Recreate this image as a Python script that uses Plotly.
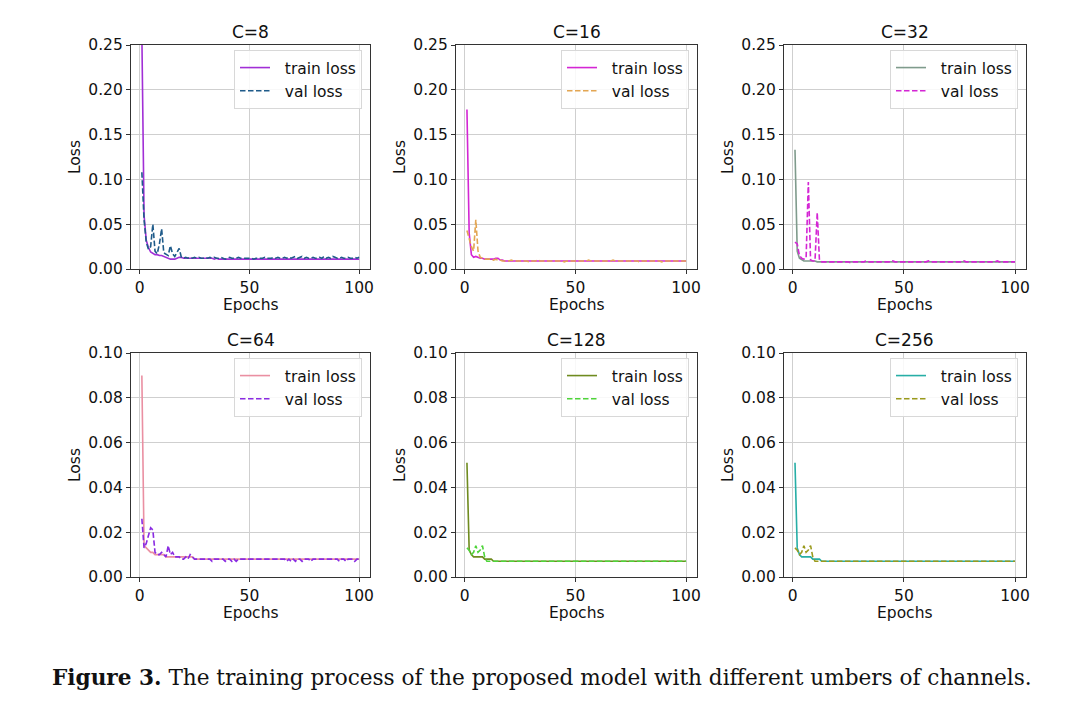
import plotly.graph_objects as go

epochs = list(range(1, 101))

titles = ["C=8", "C=16", "C=32", "C=64", "C=128", "C=256"]

c8_train = [0.262, 0.060, 0.032, 0.024, 0.019, 0.017, 0.016, 0.016, 0.015, 0.015,
            0.014, 0.013, 0.012, 0.011, 0.011, 0.011, 0.012, 0.013, 0.013, 0.012,
            0.012, 0.012, 0.012, 0.012, 0.012, 0.012, 0.012, 0.012, 0.012, 0.012,
            0.012, 0.012, 0.012, 0.011, 0.012, 0.011, 0.011, 0.011, 0.011, 0.011,
            0.011, 0.011, 0.011, 0.011, 0.011, 0.011, 0.011, 0.011, 0.011, 0.011,
            0.011, 0.011, 0.011, 0.011, 0.011, 0.011, 0.011, 0.011, 0.011, 0.011,
            0.011, 0.011, 0.011, 0.011, 0.011, 0.011, 0.011, 0.011, 0.011, 0.011,
            0.011, 0.011, 0.011, 0.011, 0.011, 0.011, 0.011, 0.011, 0.011, 0.011,
            0.011, 0.011, 0.011, 0.011, 0.011, 0.011, 0.011, 0.011, 0.011, 0.011,
            0.011, 0.011, 0.011, 0.011, 0.011, 0.011, 0.011, 0.011, 0.011, 0.011]
c8_val = [0.108, 0.055, 0.030, 0.022, 0.025, 0.050, 0.020, 0.017, 0.028, 0.045,
          0.018, 0.016, 0.015, 0.026, 0.017, 0.014, 0.018, 0.023, 0.013, 0.012,
          0.013, 0.012, 0.013, 0.012, 0.013, 0.012, 0.013, 0.012, 0.012, 0.013,
          0.012, 0.013, 0.012, 0.013, 0.012, 0.012, 0.013, 0.012, 0.011, 0.012,
          0.013, 0.012, 0.012, 0.012, 0.013, 0.012, 0.012, 0.012, 0.012, 0.012,
          0.012, 0.011, 0.012, 0.012, 0.012, 0.012, 0.013, 0.012, 0.012, 0.012,
          0.013, 0.012, 0.013, 0.012, 0.012, 0.013, 0.012, 0.013, 0.012, 0.013,
          0.014, 0.012, 0.013, 0.014, 0.012, 0.013, 0.012, 0.012, 0.013, 0.012,
          0.012, 0.013, 0.012, 0.014, 0.012, 0.013, 0.012, 0.014, 0.013, 0.012,
          0.012, 0.013, 0.012, 0.012, 0.013, 0.012, 0.012, 0.013, 0.012, 0.013]

c16_train = [0.178, 0.040, 0.016, 0.013, 0.014, 0.013, 0.012, 0.012, 0.011, 0.011,
             0.011, 0.011, 0.011, 0.012, 0.012, 0.010, 0.010, 0.009, 0.009, 0.009,
             0.009, 0.009, 0.009, 0.009, 0.009, 0.009, 0.009, 0.009, 0.009, 0.009,
             0.009, 0.009, 0.009, 0.009, 0.009, 0.009, 0.009, 0.009, 0.009, 0.009,
             0.009, 0.009, 0.009, 0.009, 0.009, 0.009, 0.009, 0.009, 0.009, 0.009,
             0.009, 0.009, 0.009, 0.009, 0.009, 0.009, 0.009, 0.009, 0.009, 0.009,
             0.009, 0.009, 0.009, 0.009, 0.009, 0.009, 0.009, 0.009, 0.009, 0.009,
             0.009, 0.009, 0.009, 0.009, 0.009, 0.009, 0.009, 0.009, 0.009, 0.009,
             0.009, 0.009, 0.009, 0.009, 0.009, 0.009, 0.009, 0.009, 0.009, 0.009,
             0.009, 0.009, 0.009, 0.009, 0.009, 0.009, 0.009, 0.009, 0.009, 0.009]
c16_val = [0.043, 0.035, 0.025, 0.020, 0.055, 0.020, 0.013, 0.012, 0.011, 0.011,
           0.011, 0.011, 0.010, 0.011, 0.010, 0.010, 0.009, 0.009, 0.009, 0.009,
           0.010, 0.009, 0.009, 0.009, 0.009, 0.009, 0.009, 0.009, 0.008, 0.009,
           0.009, 0.009, 0.010, 0.009, 0.009, 0.009, 0.009, 0.009, 0.009, 0.009,
           0.009, 0.009, 0.009, 0.009, 0.008, 0.009, 0.009, 0.009, 0.009, 0.009,
           0.009, 0.009, 0.009, 0.009, 0.009, 0.010, 0.009, 0.009, 0.009, 0.009,
           0.009, 0.009, 0.009, 0.009, 0.009, 0.009, 0.010, 0.009, 0.009, 0.009,
           0.009, 0.009, 0.009, 0.009, 0.009, 0.009, 0.009, 0.009, 0.008, 0.009,
           0.009, 0.009, 0.009, 0.009, 0.009, 0.009, 0.009, 0.009, 0.008, 0.009,
           0.009, 0.009, 0.009, 0.009, 0.009, 0.009, 0.009, 0.009, 0.009, 0.009]

c32_train = [0.133, 0.020, 0.012, 0.010, 0.009, 0.009, 0.009, 0.009, 0.009, 0.009,
             0.008, 0.008, 0.008, 0.008, 0.008, 0.008, 0.008, 0.008, 0.008, 0.008,
             0.008, 0.008, 0.008, 0.008, 0.008, 0.008, 0.008, 0.008, 0.008, 0.008,
             0.008, 0.008, 0.008, 0.008, 0.008, 0.008, 0.008, 0.008, 0.008, 0.008,
             0.008, 0.008, 0.008, 0.008, 0.008, 0.008, 0.008, 0.008, 0.008, 0.008,
             0.008, 0.008, 0.008, 0.008, 0.008, 0.008, 0.008, 0.008, 0.008, 0.008,
             0.008, 0.008, 0.008, 0.008, 0.008, 0.008, 0.008, 0.008, 0.008, 0.008,
             0.008, 0.008, 0.008, 0.008, 0.008, 0.008, 0.008, 0.008, 0.008, 0.008,
             0.008, 0.008, 0.008, 0.008, 0.008, 0.008, 0.008, 0.008, 0.008, 0.008,
             0.008, 0.008, 0.008, 0.008, 0.008, 0.008, 0.008, 0.008, 0.008, 0.008]
c32_val = [0.030, 0.028, 0.015, 0.012, 0.011, 0.012, 0.097, 0.010, 0.009, 0.009,
           0.063, 0.010, 0.008, 0.008, 0.008, 0.008, 0.008, 0.008, 0.008, 0.008,
           0.008, 0.008, 0.008, 0.008, 0.008, 0.007, 0.008, 0.008, 0.008, 0.008,
           0.008, 0.008, 0.009, 0.008, 0.008, 0.008, 0.008, 0.008, 0.008, 0.008,
           0.008, 0.008, 0.008, 0.008, 0.009, 0.008, 0.008, 0.008, 0.008, 0.008,
           0.008, 0.008, 0.008, 0.008, 0.008, 0.008, 0.008, 0.008, 0.008, 0.008,
           0.009, 0.008, 0.008, 0.008, 0.008, 0.008, 0.008, 0.008, 0.008, 0.008,
           0.008, 0.008, 0.008, 0.008, 0.008, 0.008, 0.009, 0.008, 0.008, 0.008,
           0.008, 0.008, 0.008, 0.008, 0.008, 0.008, 0.008, 0.008, 0.008, 0.008,
           0.008, 0.009, 0.008, 0.008, 0.008, 0.008, 0.008, 0.008, 0.008, 0.008]

c64_train = [0.090, 0.014, 0.013, 0.012, 0.011, 0.011, 0.010, 0.010, 0.010, 0.010,
             0.010, 0.009, 0.009, 0.009, 0.009, 0.009, 0.009, 0.009, 0.009, 0.009,
             0.009, 0.009, 0.009, 0.009, 0.008, 0.008, 0.008, 0.008, 0.008, 0.008,
             0.008, 0.008, 0.008, 0.008, 0.008, 0.008, 0.008, 0.008, 0.008, 0.008,
             0.008, 0.008, 0.008, 0.008, 0.008, 0.008, 0.008, 0.008, 0.008, 0.008,
             0.008, 0.008, 0.008, 0.008, 0.008, 0.008, 0.008, 0.008, 0.008, 0.008,
             0.008, 0.008, 0.008, 0.008, 0.008, 0.008, 0.008, 0.008, 0.008, 0.008,
             0.008, 0.008, 0.008, 0.008, 0.008, 0.008, 0.008, 0.008, 0.008, 0.008,
             0.008, 0.008, 0.008, 0.008, 0.008, 0.008, 0.008, 0.008, 0.008, 0.008,
             0.008, 0.008, 0.008, 0.008, 0.008, 0.008, 0.008, 0.008, 0.008, 0.008]
c64_val = [0.026, 0.013, 0.015, 0.018, 0.022, 0.021, 0.011, 0.010, 0.010, 0.011,
           0.010, 0.009, 0.014, 0.010, 0.011, 0.009, 0.009, 0.009, 0.008, 0.008,
           0.009, 0.008, 0.010, 0.009, 0.008, 0.008, 0.008, 0.008, 0.008, 0.008,
           0.008, 0.008, 0.007, 0.008, 0.008, 0.008, 0.008, 0.008, 0.007, 0.008,
           0.008, 0.007, 0.008, 0.007, 0.008, 0.008, 0.008, 0.008, 0.008, 0.008,
           0.008, 0.008, 0.008, 0.008, 0.008, 0.008, 0.008, 0.008, 0.008, 0.008,
           0.008, 0.008, 0.008, 0.008, 0.008, 0.008, 0.007, 0.008, 0.007, 0.008,
           0.007, 0.008, 0.008, 0.007, 0.008, 0.008, 0.008, 0.007, 0.008, 0.008,
           0.008, 0.008, 0.008, 0.008, 0.008, 0.008, 0.008, 0.008, 0.008, 0.008,
           0.007, 0.008, 0.008, 0.007, 0.008, 0.008, 0.008, 0.007, 0.008, 0.008]

c128_train = [0.051, 0.012, 0.010, 0.009, 0.009, 0.009, 0.009, 0.009, 0.008, 0.008,
              0.008, 0.008, 0.007, 0.007, 0.007, 0.007, 0.007, 0.007, 0.007, 0.007,
              0.007, 0.007, 0.007, 0.007, 0.007, 0.007, 0.007, 0.007, 0.007, 0.007,
              0.007, 0.007, 0.007, 0.007, 0.007, 0.007, 0.007, 0.007, 0.007, 0.007,
              0.007, 0.007, 0.007, 0.007, 0.007, 0.007, 0.007, 0.007, 0.007, 0.007,
              0.007, 0.007, 0.007, 0.007, 0.007, 0.007, 0.007, 0.007, 0.007, 0.007,
              0.007, 0.007, 0.007, 0.007, 0.007, 0.007, 0.007, 0.007, 0.007, 0.007,
              0.007, 0.007, 0.007, 0.007, 0.007, 0.007, 0.007, 0.007, 0.007, 0.007,
              0.007, 0.007, 0.007, 0.007, 0.007, 0.007, 0.007, 0.007, 0.007, 0.007,
              0.007, 0.007, 0.007, 0.007, 0.007, 0.007, 0.007, 0.007, 0.007, 0.007]
c128_val = [0.013, 0.012, 0.010, 0.011, 0.014, 0.011, 0.012, 0.014, 0.009, 0.007,
            0.007, 0.007, 0.007, 0.007, 0.007, 0.007, 0.007, 0.007, 0.007, 0.007,
            0.007, 0.007, 0.007, 0.007, 0.007, 0.007, 0.007, 0.007, 0.007, 0.007,
            0.007, 0.007, 0.007, 0.007, 0.007, 0.007, 0.007, 0.007, 0.007, 0.007,
            0.007, 0.007, 0.007, 0.007, 0.007, 0.007, 0.007, 0.007, 0.007, 0.007,
            0.007, 0.007, 0.007, 0.007, 0.007, 0.007, 0.007, 0.007, 0.007, 0.007,
            0.007, 0.007, 0.007, 0.007, 0.007, 0.007, 0.007, 0.007, 0.007, 0.007,
            0.007, 0.007, 0.007, 0.007, 0.007, 0.007, 0.007, 0.007, 0.007, 0.007,
            0.007, 0.007, 0.007, 0.007, 0.007, 0.007, 0.007, 0.007, 0.007, 0.007,
            0.007, 0.007, 0.007, 0.007, 0.007, 0.007, 0.007, 0.007, 0.007, 0.007]

c256_train = [0.051, 0.013, 0.010, 0.009, 0.009, 0.009, 0.009, 0.009, 0.008, 0.008,
              0.008, 0.008, 0.007, 0.007, 0.007, 0.007, 0.007, 0.007, 0.007, 0.007,
              0.007, 0.007, 0.007, 0.007, 0.007, 0.007, 0.007, 0.007, 0.007, 0.007,
              0.007, 0.007, 0.007, 0.007, 0.007, 0.007, 0.007, 0.007, 0.007, 0.007,
              0.007, 0.007, 0.007, 0.007, 0.007, 0.007, 0.007, 0.007, 0.007, 0.007,
              0.007, 0.007, 0.007, 0.007, 0.007, 0.007, 0.007, 0.007, 0.007, 0.007,
              0.007, 0.007, 0.007, 0.007, 0.007, 0.007, 0.007, 0.007, 0.007, 0.007,
              0.007, 0.007, 0.007, 0.007, 0.007, 0.007, 0.007, 0.007, 0.007, 0.007,
              0.007, 0.007, 0.007, 0.007, 0.007, 0.007, 0.007, 0.007, 0.007, 0.007,
              0.007, 0.007, 0.007, 0.007, 0.007, 0.007, 0.007, 0.007, 0.007, 0.007]
c256_val = [0.013, 0.012, 0.010, 0.011, 0.014, 0.011, 0.012, 0.014, 0.009, 0.007,
            0.007, 0.007, 0.007, 0.007, 0.007, 0.007, 0.007, 0.007, 0.007, 0.007,
            0.007, 0.007, 0.007, 0.007, 0.007, 0.007, 0.007, 0.007, 0.007, 0.007,
            0.007, 0.007, 0.007, 0.007, 0.007, 0.007, 0.007, 0.007, 0.007, 0.007,
            0.007, 0.007, 0.007, 0.007, 0.007, 0.007, 0.007, 0.007, 0.007, 0.007,
            0.007, 0.007, 0.007, 0.007, 0.007, 0.007, 0.007, 0.007, 0.007, 0.007,
            0.007, 0.007, 0.007, 0.007, 0.007, 0.007, 0.007, 0.007, 0.007, 0.007,
            0.007, 0.007, 0.007, 0.007, 0.007, 0.007, 0.007, 0.007, 0.007, 0.007,
            0.007, 0.007, 0.007, 0.007, 0.007, 0.007, 0.007, 0.007, 0.007, 0.007,
            0.007, 0.007, 0.007, 0.007, 0.007, 0.007, 0.007, 0.007, 0.007, 0.007]

train_series = [c8_train, c16_train, c32_train, c64_train, c128_train, c256_train]
val_series = [c8_val, c16_val, c32_val, c64_val, c128_val, c256_val]
train_colors = ["#a12fd6", "#d426d4", "#7f9b8c", "#ea8fa2", "#6f8b1f", "#27aea6"]
val_colors = ["#1f5b8a", "#e3a653", "#d426d4", "#8a2be2", "#4fd43a", "#9a9a1c"]
y_max = [0.25, 0.25, 0.25, 0.1, 0.1, 0.1]
y_dtick = [0.05, 0.05, 0.05, 0.02, 0.02, 0.02]
x_ticks = [0, 50, 100]
legend_names = ["\u00a0\u00a0train loss", "\u00a0\u00a0val loss"]

W, H = 1080, 714
col_px = [(131, 370), (456, 697), (784, 1026)]
row_px = [(45, 269), (353, 577)]

FONT = "DejaVu Sans"
fig = go.Figure()
annotations = []

for i in range(6):
    r, c = divmod(i, 3)
    ax = "" if i == 0 else str(i + 1)
    x0, x1 = col_px[c]
    t0, t1 = row_px[r]
    xdom = [x0 / W, x1 / W]
    ydom = [1 - t1 / H, 1 - t0 / H]
    leg = "legend" if i == 0 else "legend%d" % (i + 1)
    fig.add_trace(go.Scatter(x=epochs, y=train_series[i], mode="lines", name=legend_names[0],
                             line=dict(color=train_colors[i], width=1.6),
                             xaxis="x" + ax, yaxis="y" + ax, legend=leg))
    fig.add_trace(go.Scatter(x=epochs, y=val_series[i], mode="lines", name=legend_names[1],
                             line=dict(color=val_colors[i], width=1.6, dash="5.5px,2.5px"),
                             xaxis="x" + ax, yaxis="y" + ax, legend=leg))
    axis_common = dict(showline=True, linecolor="#333333", linewidth=1.1, mirror=True,
                       showgrid=True, gridcolor="#cfcfcf", gridwidth=1, automargin=False,
                       ticks="outside", ticklen=4, tickwidth=1, tickcolor="#333333",
                       tickfont=dict(family=FONT, size=15.5, color="#111111"), zeroline=False)
    fig.layout["xaxis" + ax] = dict(domain=xdom, anchor="y" + ax, range=[-3.95, 104.95],
                                    tickvals=x_ticks, **axis_common)
    fig.layout["yaxis" + ax] = dict(domain=ydom, anchor="x" + ax, range=[0, y_max[i]],
                                    dtick=y_dtick[i], tick0=0, tickformat=".2f", **axis_common)
    fig.layout[leg] = dict(x=(x1 - 8) / W, y=1 - (t0 + 5) / H, xanchor="right", yanchor="top",
                           bgcolor="rgba(255,255,255,0.85)", bordercolor="#d8d8d8", borderwidth=1,
                           font=dict(family=FONT, size=15.5, color="#111111"),
                           itemwidth=30, tracegroupgap=0)
    xc = (x0 + x1) / 2 / W
    annotations.append(dict(text=titles[i], x=xc, y=1 - (t0 - 13) / H, xref="paper", yref="paper",
                            showarrow=False, font=dict(family=FONT, size=17, color="#111111"),
                            xanchor="center", yanchor="middle"))
    annotations.append(dict(text="Epochs", x=xc, y=1 - (t1 + 36) / H, xref="paper", yref="paper",
                            showarrow=False, font=dict(family=FONT, size=15.5, color="#111111"),
                            xanchor="center", yanchor="middle"))
    annotations.append(dict(text="Loss", x=(x0 - 56) / W, y=1 - (t0 + t1) / 2 / H, xref="paper",
                            yref="paper", showarrow=False, textangle=-90,
                            font=dict(family=FONT, size=15.5, color="#111111"),
                            xanchor="center", yanchor="middle"))

annotations.append(dict(text="<b>Figure 3.</b> The training process of the proposed model with different umbers of channels.",
                        x=542 / W, y=1 - 677 / H, xref="paper", yref="paper", showarrow=False,
                        font=dict(family="DejaVu Serif", size=21.6, color="#111111"),
                        xanchor="center", yanchor="middle"))

fig.update_layout(width=W, height=H, margin=dict(l=0, r=0, t=0, b=0, autoexpand=False),
                  paper_bgcolor="white", plot_bgcolor="white",
                  annotations=annotations, showlegend=True)

fig.write_html("out.html")
